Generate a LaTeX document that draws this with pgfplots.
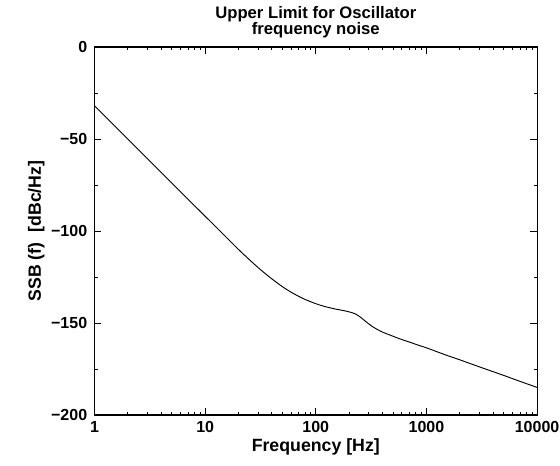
\documentclass[border=0pt]{standalone}
\usepackage{pgfplots}
\pgfplotsset{compat=1.18}
\usepackage{fontspec}
\setmainfont{Liberation Sans}
\begin{document}
\begin{tikzpicture}
\begin{axis}[
    scale only axis,
    width=331.9pt, height=276pt,
    xmode=log,
    xmin=1, xmax=10000,
    ymin=-200, ymax=0,
    xtick={1,10,100,1000,10000},
    xticklabels={1,10,100,1000,10000},
    ytick={-200,-150,-100,-50,0},
    yticklabels={−200,−150,−100,−50,0},
    minor ytick={-175,-125,-75,-25},
    tick align=inside,
    major tick length=5pt,
    minor tick length=2.5pt,
    every tick/.style={black, line width=0.6pt},
    axis line style={line width=0.8pt},
    tick label style={font=\fontsize{12}{14}\selectfont\bfseries},
    label style={font=\fontsize{13.3}{15}\selectfont\bfseries},
    title style={font=\fontsize{12.5}{12.5}\selectfont\bfseries, align=center, yshift=-3pt},
    title={Upper Limit for Oscillator\\frequency noise},
    xlabel={Frequency [Hz]},
    ylabel={SSB (f)\ \ [dBc/Hz]},
    xticklabel style={yshift=-1pt},
    yticklabel style={xshift=-2pt},
    xlabel style={yshift=2pt},
    ylabel style={yshift=-2pt},
]
\addplot[black, line width=0.7pt, smooth, tension=0.5] coordinates {
    (1,-32) (2,-50) (5,-74) (10,-92) (15,-102.5) (20,-110) (25,-115.5)
    (30,-119.8) (35,-123.2) (40,-126.0) (50,-130.3) (60,-133.3)
    (70,-135.5) (80,-137.2) (100,-139.5) (120,-141.0) (150,-142.4)
    (180,-143.3) (210,-144.3) (230,-145.2) (250,-146.6) (270,-148.2)
    (300,-150.4) (330,-152.2) (370,-153.9) (410,-155.2) (470,-156.6)
    (540,-158.0) (620,-159.3) (720,-160.6) (850,-162.1) (1000,-163.5)
    (1500,-167.4) (2000,-170.0) (3000,-173.8) (5000,-178.5)
    (7000,-181.7) (10000,-185)
};
\end{axis}
\pgfresetboundingbox
\path[use as bounding box] (-70.9pt,-38.25pt) rectangle (349.1pt,311.25pt);
\end{tikzpicture}
\end{document}
